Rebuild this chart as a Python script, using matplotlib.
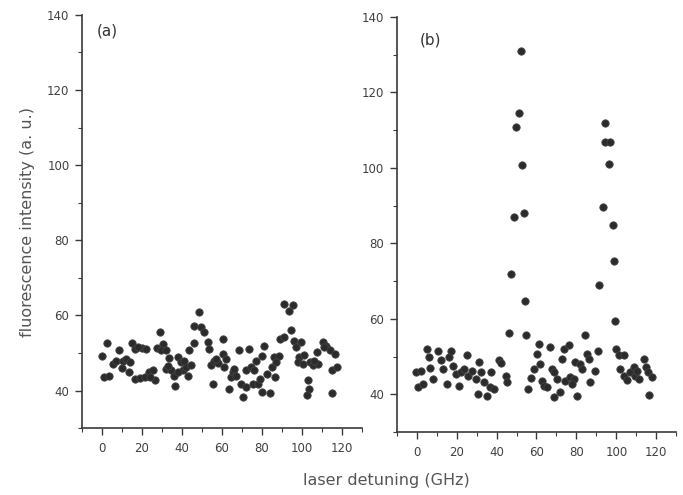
import numpy as np
import matplotlib.pyplot as plt
from matplotlib.ticker import MultipleLocator

# panel (a): detuning (GHz) and intensity (a. u.)
x_a = [2.3, -0.2, 1.2, 3.7, 5.3, 7, 8.7, 10.3, 12, 14, 13.3, 15, 16.5, 20, 22,
       16.5, 19, 21.5, 23.5, 25.5, 26.5, 29, 27.5, 30.3, 29.5, 32, 33.5, 32,
       34.5, 36, 36.5, 38, 39.5, 40.5, 42, 43, 44.5, 43.5, 46, 46, 48.7, 49.5,
       51, 52.8, 53.7, 55.5, 54.5, 56, 58, 60.3, 60.3, 62, 61, 64.5, 63.5, 65.5,
       66, 68.7, 69.5, 70.5, 72, 72, 73.7, 74.5, 75.5, 77, 78, 80, 80.8, 80,
       82.5, 84, 85, 86.7, 85.8, 88.3, 89, 91, 91.2, 93.7, 95.7, 94.5, 96.2, 97,
       98.7, 99.5, 97.8, 100.5, 103, 103.3, 102.5, 104, 105.7, 107.3, 108,
       110.5, 112.2, 113.8, 116.5, 115, 117.5, 114.8,
       10, 18, 24, 33, 38, 41, 57, 67, 76, 79, 87, 101, 106, 111]
y_a = [52.6, 49.1, 43.7, 44, 47.1, 48, 50.7, 48, 48.5, 47.6, 45, 52.6, 51, 51.3,
       51, 43, 43.3, 43.5, 45, 45.4, 42.7, 55.7, 51.3, 52.3, 50.7, 50.7, 48.7,
       45.8, 45.4, 44, 41.3, 48.9, 47.6, 45.4, 46.2, 44, 46.7, 50.7, 52.6, 57.3,
       60.9, 56.9, 55.6, 52.9, 51.1, 41.7, 46.7, 47.8, 47.3, 53.8, 49.8, 48.4,
       46.2, 43.5, 40.4, 44.9, 45.8, 50.7, 41.7, 38.2, 40.9, 45.4, 51.1, 46.2,
       41.7, 47.8, 41.7, 49.1, 52, 39.6, 44.4, 39.4, 46.2, 43.5, 48.9, 49.3,
       53.8, 54.2, 63.1, 61.3, 62.9, 56, 53.3, 51.5, 48.9, 52.9, 47.6, 47.1,
       42.7, 40.4, 38.7, 47.6, 46.7, 50.4, 47.1, 52.9, 52, 50.7, 49.8, 45.4,
       46.2, 39.4,
       46, 51.5, 43.5, 46.5, 45, 48, 48.5, 44, 45.5, 43, 47.5, 49.5, 48, 51.5]

# panel (b)
x_b = [-0.5, 2.3, 0.7, 3.3, 5, 6.7, 6.3, 8.3, 10.7, 12, 13.3, 15.3, 17, 16.2,
       18.3, 19.5, 21.2, 22, 23.7, 25.3, 25.7, 27.8, 29.5, 31.2, 32, 30.7, 33.7,
       35, 36.7, 38.7, 37, 41.2, 42, 44.5, 45, 46.2, 47, 52, 51.2, 49.5, 52.8,
       48.7, 53.7, 54, 54.8, 55.8, 57, 58.7, 60.3, 61.2, 62, 62.8, 63.7, 65.3,
       67, 67.8, 68.7, 68.7, 70.3, 72, 73, 73.7, 74.5, 76.3, 77, 78.7, 77.8,
       80.3, 79.5, 82, 82.8, 84.5, 85.3, 86.2, 87, 89.5, 90.7, 91.2, 94.5, 94.3,
       97, 96.2, 93.2, 98.2, 98.7, 99.5, 100, 101.2, 103.7, 102, 103.7, 105.3,
       107, 108.7, 109.5, 111.2, 110.3, 114, 115, 115.8, 117.8, 116.2]
y_b = [45.9, 46.1, 41.9, 42.8, 52.1, 46.9, 49.9, 44.1, 51.4, 49, 46.7, 42.7,
       51.6, 49.9, 47.6, 45.4, 42.3, 45.9, 46.7, 50.3, 45, 46.3, 44.1, 48.5,
       45.9, 40.1, 43.2, 39.7, 41.9, 41.5, 45.9, 49, 48.2, 45, 43.2, 56.3, 71.8,
       130.9, 114.6, 110.9, 100.7, 87, 88.1, 64.7, 55.8, 41.4, 44.3, 46.8, 50.8,
       53.4, 48.1, 43.6, 42.3, 41.9, 52.5, 46.8, 45.9, 39.2, 44.1, 40.5, 49.4,
       52.1, 43.6, 53, 44.5, 44.1, 42.8, 39.7, 48.5, 48.1, 46.8, 55.6, 50.8,
       49.4, 43.2, 46.3, 51.6, 69, 111.9, 106.8, 106.8, 101, 89.7, 84.8, 75.4,
       59.4, 51.9, 50.3, 50.3, 46.8, 45, 43.7, 45.9, 47.2, 45, 44.1, 46.3, 49.4,
       47.2, 45.9, 44.5, 39.8]

fg = '#3a3a3a'
fig = plt.figure(figsize=(6.83, 4.95), dpi=100)
ax1 = fig.add_axes([0.120, 0.135, 0.410, 0.835])
ax2 = fig.add_axes([0.581, 0.127, 0.409, 0.839])

for ax, xs, ys, lab, lx, ly in [(ax1, x_a, y_a, '(a)', 0.054, 0.961),
                                 (ax2, x_b, y_b, '(b)', 0.082, 0.945)]:
    ax.scatter(xs, ys, s=28, color='#2b2b2b', edgecolors='#444444',
               linewidths=0.6, zorder=3)
    ax.set_xlim(-10, 130)
    ax.set_ylim(30, 140)
    ax.xaxis.set_minor_locator(MultipleLocator(10))
    ax.yaxis.set_minor_locator(MultipleLocator(10))
    ax.set_yticks([40, 60, 80, 100, 120, 140])
    ax.set_xticks([0, 20, 40, 60, 80, 100, 120])
    for s in ['top', 'right']:
        ax.spines[s].set_visible(False)
    for s in ['left', 'bottom']:
        ax.spines[s].set_color(fg)
        ax.spines[s].set_linewidth(1.2)
    ax.tick_params(which='major', direction='out', length=5, width=1,
                   color=fg, labelcolor='#404040', labelsize=8.5, pad=4)
    ax.tick_params(which='minor', direction='out', length=3, width=0.8, color=fg)
    ax.tick_params(axis='x', pad=5)
    ax.text(lx, ly, lab, transform=ax.transAxes, fontsize=11, color='#333333',
            ha='left', va='center')

ax1.set_ylabel('fluorescence intensity (a. u.)', fontsize=11.5, color='#555555',
               labelpad=9)
fig.text(0.565, 0.03, 'laser detuning (GHz)', fontsize=11.5, color='#555555',
         ha='center', va='center')

fig.savefig('out.png', dpi=100)
